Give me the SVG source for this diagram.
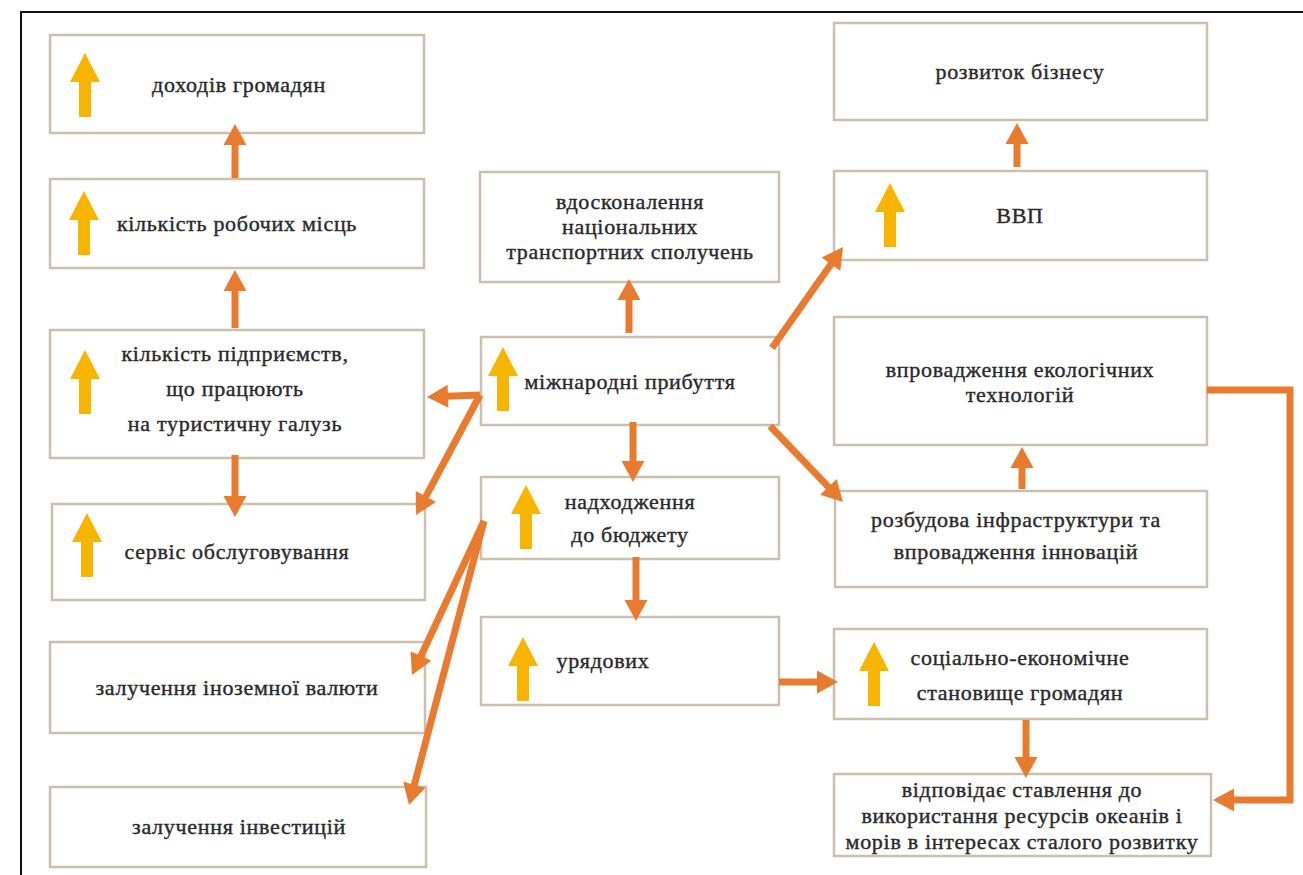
<svg xmlns="http://www.w3.org/2000/svg" width="1303" height="875" viewBox="0 0 1303 875">
<style>
.box{fill:#ffffff;stroke:#CDBFAE;stroke-width:2.5}
.t{font-family:"Liberation Serif","Times New Roman",serif;font-size:22px;letter-spacing:0.7px;fill:#2a2a2a;text-anchor:middle;stroke:#2a2a2a;stroke-width:0.4}
.c{fill:none;stroke:#E97B2F;stroke-width:7;marker-end:url(#ah)}
.ya{fill:#F7B500}
</style>
<defs>
<marker id="ah" markerUnits="userSpaceOnUse" viewBox="-2 -12 24 24" refX="0" refY="0" markerWidth="24" markerHeight="24" orient="auto" overflow="visible">
<path d="M-1,-11.5 L20,0 L-1,11.5 Z" fill="#E97B2F"/>
</marker>
<path id="up" d="M0,0 L15,29 L6,29 L6,64 L-6,64 L-6,29 L-15,29 Z"/>
</defs>
<rect x="0" y="0" width="1303" height="875" fill="#ffffff"/>
<path d="M21,880 L21,12 L1310,12" fill="none" stroke="#111" stroke-width="2"/>

<g id="n-dokhody"><rect class="box" x="50" y="35" width="374" height="98"/><use href="#up" class="ya" x="85" y="53"/><text class="t" x="239" y="92">доходів громадян</text></g>
<g id="n-robochi"><rect class="box" x="50" y="179" width="374" height="89"/><use href="#up" class="ya" x="84" y="191"/><text class="t" x="237" y="231">кількість  робочих місць</text></g>
<g id="n-pidpryiemstva"><rect class="box" x="50" y="330" width="374" height="128"/><use href="#up" class="ya" x="85" y="350"/><text class="t" x="235" y="361">кількість підприємств,</text><text class="t" x="235" y="396">що працюють</text><text class="t" x="235" y="431">на туристичну галузь</text></g>
<g id="n-servis"><rect class="box" x="52" y="504" width="373" height="96"/><use href="#up" class="ya" x="87" y="513"/><text class="t" x="237" y="559">сервіс обслуговування</text></g>
<g id="n-valiuta"><rect class="box" x="50" y="642" width="375" height="91"/><text class="t" x="237" y="695">залучення іноземної валюти</text></g>
<g id="n-investytsii"><rect class="box" x="50" y="787" width="376" height="80"/><text class="t" x="239" y="834">залучення інвестицій</text></g>

<g id="n-transport"><rect class="box" x="480" y="172" width="299" height="110"/><text class="t" x="630" y="209">вдосконалення</text><text class="t" x="630" y="234">національних</text><text class="t" x="630" y="259">транспортних сполучень</text></g>
<g id="n-prybuttia"><rect class="box" x="481" y="337" width="298" height="88"/><use href="#up" class="ya" x="503" y="347"/><text class="t" x="630" y="389">міжнародні прибуття</text></g>
<g id="n-biudzhet"><rect class="box" x="481" y="477" width="298" height="82"/><use href="#up" class="ya" x="526" y="485"/><text class="t" x="630" y="509">надходження</text><text class="t" x="630" y="542">до бюджету</text></g>
<g id="n-uriadovykh"><rect class="box" x="481" y="617" width="298" height="88"/><use href="#up" class="ya" x="523" y="637"/><text class="t" x="603" y="668">урядових</text></g>

<g id="n-biznes"><rect class="box" x="834" y="23" width="373" height="97"/><text class="t" x="1020" y="79">розвиток бізнесу</text></g>
<g id="n-vvp"><rect class="box" x="834" y="171" width="373" height="89"/><use href="#up" class="ya" x="890" y="183"/><text class="t" x="1020" y="223">ВВП</text></g>
<g id="n-eko"><rect class="box" x="834" y="317" width="373" height="128"/><text class="t" x="1020" y="377">впровадження екологічних</text><text class="t" x="1020" y="402">технологій</text></g>
<g id="n-infra"><rect class="box" x="835" y="491" width="372" height="96"/><text class="t" x="1016" y="527">розбудова інфраструктури та</text><text class="t" x="1016" y="559">впровадження інновацій</text></g>
<g id="n-sotsialno"><rect class="box" x="834" y="629" width="373" height="90"/><use href="#up" class="ya" x="874" y="642"/><text class="t" x="1020" y="665">соціально-економічне</text><text class="t" x="1020" y="700">становище громадян</text></g>
<g id="n-vidpovidaie"><rect class="box" x="834" y="774" width="377" height="82"/><text class="t" x="1022" y="797">відповідає ставлення до</text><text class="t" x="1022" y="823">використання ресурсів океанів і</text><text class="t" x="1022" y="849">морів в інтересах сталого розвитку</text></g>

<g id="connectors">
<path class="c" d="M235,178 L235,144"/>
<path class="c" d="M235,328 L235,290"/>
<path class="c" d="M235,455 L235,497"/>
<path class="c" d="M629,333 L629,299"/>
<path class="c" d="M633,422 L633,462"/>
<path class="c" d="M636,557 L636,601"/>
<path class="c" d="M1017,167 L1017,143"/>
<path class="c" d="M1022,489 L1022,467"/>
<path class="c" d="M1026,720 L1026,758"/>
<path class="c" d="M779,682 L818,682"/>
<path class="c" d="M1207,390 L1290,390 L1290,800 L1233,800"/>
<path class="c" d="M480,395 L447,396.2"/>
<path class="c" d="M480,395 L425.4,497.4"/>
<path class="c" d="M484,521 L420.5,656.9"/>
<path class="c" d="M484,521 L414.1,785.7"/>
<path class="c" d="M772,348 L831.5,263.4"/>
<path class="c" d="M770,426 L829.1,487.6"/>
</g>
</svg>
